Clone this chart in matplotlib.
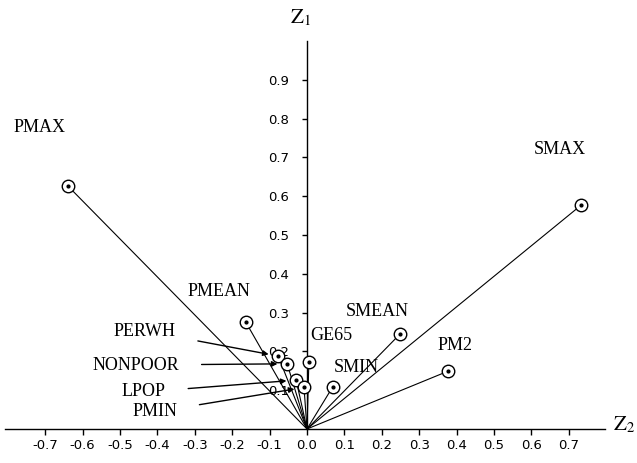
import matplotlib
matplotlib.use('Agg')
import matplotlib.pyplot as plt

# 变量名称与载荷坐标 (Z2, Z1)
names = ['PMAX', 'SMAX', 'PMEAN', 'SMEAN', 'PM2', 'GE65', 'SMIN',
         'PERWH', 'NONPOOR', 'LPOP', 'PMIN']
z2 = [-0.639, 0.733, -0.164, 0.249, 0.377, 0.005, 0.069,
      -0.077, -0.053, -0.029, -0.008]
z1 = [0.626, 0.577, 0.276, 0.245, 0.149, 0.173, 0.109,
      0.188, 0.168, 0.126, 0.107]

xticks = [-0.7, -0.6, -0.5, -0.4, -0.3, -0.2, -0.1, 0.0, 0.1, 0.2, 0.3, 0.4, 0.5, 0.6, 0.7]
yticks = [0.1, 0.2, 0.3, 0.4, 0.5, 0.6, 0.7, 0.8, 0.9]

# 标签位置（像素，图片左上角为原点），带箭头的标签
label_px = {'PMAX': (40, 128), 'SMAX': (560, 150), 'PMEAN': (219, 292),
            'SMEAN': (377, 311), 'PM2': (455, 346), 'GE65': (331, 335),
            'SMIN': (356, 367), 'PERWH': (145, 331), 'NONPOOR': (136, 365),
            'LPOP': (144, 392), 'PMIN': (155, 412)}
arrowed = ['PERWH', 'NONPOOR', 'LPOP', 'PMIN']

W, H = 637, 463
x0, y0, sx, sy = 307, 429, 374.0, 388.0   # 原点像素位置与每单位像素数

# 数学文本用 Times 风格字体
plt.rcParams['mathtext.fontset'] = 'stix'


def px2data(px, py):
    return (px - x0) / sx, (y0 - py) / sy


fig = plt.figure(figsize=(W / 100, H / 100), dpi=100)
ax = fig.add_axes([0, 0, 1, 1])
ax.set_xlim(px2data(0, 0)[0], px2data(W, 0)[0])
ax.set_ylim(px2data(0, H)[1], px2data(0, 0)[1])

# 坐标轴放在原点
for s in ['top', 'right']:
    ax.spines[s].set_visible(False)
ax.spines['bottom'].set_position(('data', 0))
ax.spines['left'].set_position(('data', 0))
ax.spines['bottom'].set_bounds(-0.807, 0.797)
ax.spines['left'].set_bounds(0, 1.0)
ax.spines['bottom'].set_linewidth(1.0)
ax.spines['left'].set_linewidth(1.0)

ax.set_xticks(xticks)
ax.set_xticklabels(['%.1f' % v for v in xticks])
ax.set_yticks(yticks)
ax.set_yticklabels(['%.1f' % v for v in yticks])
ax.tick_params(axis='x', direction='out', length=4.3, width=1.0, pad=3, labelsize=9.5)
ax.tick_params(axis='y', direction='out', length=3.8, width=1.0, pad=9, labelsize=9.5)

# 从原点到各点的连线
for x, y in zip(z2, z1):
    ax.plot([0, x], [0, y], color='black', lw=0.8, zorder=2)

ax.plot(z2, z1, 'o', ms=9, mfc='white', mec='black', mew=1.0, zorder=3)
ax.plot(z2, z1, '.', ms=4, color='black', zorder=4)

serif = ['Liberation Serif', 'DejaVu Serif']
for n, x, y in zip(names, z2, z1):
    tx, ty = px2data(*label_px[n])
    if n in arrowed:
        ax.annotate(n, xy=(x, y), xytext=(tx, ty), ha='center', va='center',
                    fontsize=13, family=serif,
                    arrowprops=dict(arrowstyle='-|>', color='black', lw=1.0,
                                    shrinkA=14, shrinkB=7, mutation_scale=8))
    else:
        ax.text(tx, ty, n, ha='center', va='center', fontsize=13, family=serif)

ax.text(*px2data(300, 18), r'$\mathrm{Z}_1$', ha='center', va='center', fontsize=15)
ax.text(*px2data(624, 425), r'$\mathrm{Z}_2$', ha='center', va='center', fontsize=15)

fig.savefig('out.png', dpi=100)
